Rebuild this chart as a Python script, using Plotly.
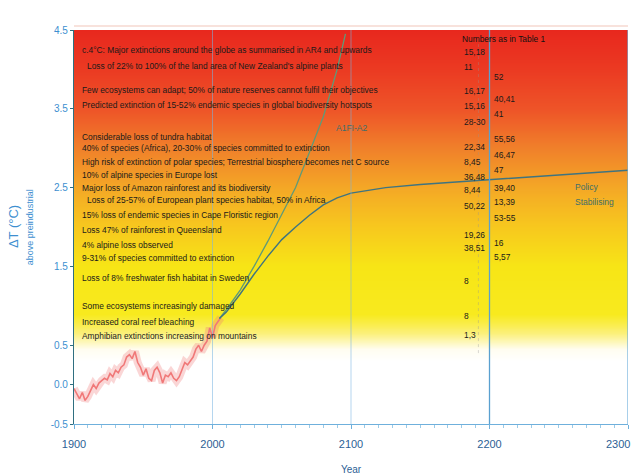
import numpy as np
import plotly.graph_objects as go

# ---------------- data ----------------
hist_years = [1900, 1902, 1904, 1906, 1908, 1910, 1912, 1914, 1916, 1918, 1920, 1922, 1924, 1926,
              1928, 1930, 1932, 1934, 1936, 1938, 1940, 1942, 1944, 1946, 1948, 1950, 1952, 1954,
              1956, 1958, 1960, 1962, 1964, 1966, 1968, 1970, 1972, 1974, 1976, 1978, 1980, 1982,
              1984, 1986, 1988, 1990, 1992, 1994, 1996, 1998, 2000, 2002, 2004, 2006]
hist_temp = [-0.05, -0.12, -0.18, -0.10, -0.20, -0.15, -0.08, 0.00, -0.05, 0.02, 0.05, 0.08, 0.06, 0.14,
             0.10, 0.18, 0.15, 0.22, 0.25, 0.35, 0.38, 0.33, 0.42, 0.28, 0.22, 0.12, 0.20, 0.08,
             0.05, 0.18, 0.22, 0.15, 0.02, 0.12, 0.10, 0.15, 0.08, 0.05, 0.10, 0.20, 0.28, 0.25,
             0.30, 0.35, 0.45, 0.50, 0.42, 0.50, 0.55, 0.72, 0.60, 0.75, 0.80, 0.85]

stab_years = [2005, 2010, 2020, 2030, 2040, 2050, 2060, 2070, 2080, 2090, 2100, 2125, 2150, 2175, 2200, 2250, 2300]
stab_temp = [0.84, 0.92, 1.15, 1.40, 1.63, 1.84, 2.00, 2.15, 2.28, 2.37, 2.43, 2.50, 2.54, 2.57, 2.60, 2.66, 2.72]

high_years = [2005, 2010, 2020, 2030, 2040, 2050, 2060, 2070, 2080, 2090, 2096]
high_temp = [0.84, 0.95, 1.20, 1.50, 1.82, 2.15, 2.50, 2.95, 3.40, 4.00, 4.45]

impact_text = [
    "c.4°C: Major extinctions around the globe as summarised in AR4 and upwards",
    "Loss of 22% to 100% of the land area of New Zealand's alpine plants",
    "Few ecosystems can adapt; 50% of nature reserves cannot fulfil their objectives",
    "Predicted extinction of 15-52% endemic species in global biodiversity hotspots",
    "Considerable loss of tundra habitat",
    "40% of species (Africa), 20-30% of species committed to extinction",
    "High risk of extinction of polar species; Terrestrial biosphere becomes net C source",
    "10% of alpine species in Europe lost",
    "Major loss of Amazon rainforest and its biodiversity",
    "Loss of 25-57% of European plant species habitat, 50% in Africa",
    "15% loss of endemic species in Cape Floristic region",
    "Loss 47% of rainforest in Queensland",
    "4% alpine loss observed",
    "9-31% of species committed to extinction",
    "Loss of 8% freshwater fish habitat in Sweden",
    "Some ecosystems increasingly damaged",
    "Increased coral reef bleaching",
    "Amphibian extinctions increasing on mountains",
]
impact_temp = [4.25, 4.04, 3.74, 3.55, 3.14, 3.00, 2.82, 2.66, 2.49, 2.34, 2.15, 1.96, 1.77, 1.61, 1.35, 1.00, 0.80, 0.62]
impact_indent = [0, 1, 0, 0, 0, 0, 0, 0, 0, 1, 0, 0, 0, 0, 0, 0, 0, 0]

refs_a = ["15,18", "11", "16,17", "15,16", "28-30", "22,34", "8,45", "36,48", "8,44", "50,22",
          "19,26", "38,51", "8", "8", "1,3"]
refs_a_temp = [4.22, 4.03, 3.72, 3.53, 3.33, 3.01, 2.82, 2.63, 2.47, 2.27, 1.90, 1.73, 1.31, 0.87, 0.63]
refs_b = ["52", "40,41", "41", "55,56", "46,47", "47", "39,40", "13,39", "53-55", "16", "5,57"]
refs_b_temp = [3.90, 3.62, 3.43, 3.12, 2.91, 2.72, 2.49, 2.32, 2.11, 1.80, 1.62]

x_ticks = [1900, 2000, 2100, 2200, 2300]
x_tick_text = ["1900", "2000", "2100", "2200", ""]
y_ticks = [-0.5, 0.0, 0.5, 1.5, 2.5, 3.5, 4.5]
y_tick_text = ["-0.5", "0.0", "0.5", "1.5", "2.5", "3.5", "4.5"]

FONT = "Liberation Sans, Arial, sans-serif"

# ---------------- figure ----------------
fig = go.Figure()

# background gradient (white -> yellow -> orange -> red)
grad_y = np.linspace(0.3, 4.5, 85)
grad_z = [[v, v] for v in grad_y]
lo, hi = 0.3, 4.5
def n(v):
    return (v - lo) / (hi - lo)
colorscale = [
    [0.0, "#ffffff"],
    [n(0.45), "#fffdf0"],
    [n(0.65), "#fbf07a"],
    [n(0.9), "#f8ea1e"],
    [n(1.5), "#f7e516"],
    [n(2.0), "#f7c81e"],
    [n(2.5), "#f4a826"],
    [n(3.0), "#f0802a"],
    [n(3.5), "#ee5428"],
    [n(4.0), "#eb3a22"],
    [1.0, "#e8281e"],
]
fig.add_trace(go.Heatmap(x=[1900, 2300], y=grad_y, z=grad_z, colorscale=colorscale,
                         zmin=lo, zmax=hi, zsmooth="best", showscale=False, hoverinfo="skip"))

# historical record (fuzzy red)
fig.add_trace(go.Scatter(x=hist_years, y=hist_temp, mode="lines",
                         line=dict(color="rgba(240,120,120,0.3)", width=8), hoverinfo="skip"))
fig.add_trace(go.Scatter(x=hist_years, y=hist_temp, mode="lines",
                         line=dict(color="#f07878", width=1.6), hoverinfo="skip"))

# projections
fig.add_trace(go.Scatter(x=high_years, y=high_temp, mode="lines",
                         line=dict(color="#5f9a78", width=1.3), hoverinfo="skip"))
fig.add_trace(go.Scatter(x=stab_years, y=stab_temp, mode="lines",
                         line=dict(color="#3f7480", width=1.4), hoverinfo="skip"))

annotations = []
txt_font = dict(family=FONT, size=8.4, color="#1a1a1a")
for t, v, ind in zip(impact_text, impact_temp, impact_indent):
    annotations.append(dict(x=1904 + 4 * ind, y=v, xref="x", yref="y", text=t, showarrow=False,
                            xanchor="left", yanchor="middle", font=txt_font))
annotations.append(dict(x=2179, y=4.39, xref="x", yref="y", text="Numbers as in Table 1",
                        showarrow=False, xanchor="left", yanchor="middle",
                        font=dict(family=FONT, size=8.4, color="#111")))
for t, v in zip(refs_a, refs_a_temp):
    annotations.append(dict(x=2180, y=v, xref="x", yref="y", text=t, showarrow=False,
                            xanchor="left", yanchor="middle", font=txt_font))
for t, v in zip(refs_b, refs_b_temp):
    annotations.append(dict(x=2202, y=v, xref="x", yref="y", text=t, showarrow=False,
                            xanchor="left", yanchor="middle", font=txt_font))
curve_font = dict(family=FONT, size=8.5, color="#3e6e6a")
annotations.append(dict(x=2260, y=2.51, xref="x", yref="y", text="Policy", showarrow=False,
                        xanchor="left", yanchor="middle", font=curve_font))
annotations.append(dict(x=2260, y=2.32, xref="x", yref="y", text="Stabilising", showarrow=False,
                        xanchor="left", yanchor="middle", font=curve_font))
annotations.append(dict(x=2100, y=3.26, xref="x", yref="y", text="A1FI-A2", showarrow=False,
                        xanchor="center", yanchor="middle", font=curve_font))

# last x tick label, kept inside the page
annotations.append(dict(x=1.0, y=0, xref="paper", yref="paper", text="2300", showarrow=False,
                        xanchor="right", xshift=4, yanchor="top", yshift=-12,
                        font=dict(family=FONT, size=11, color="#2d5f95")))

# axis titles
annotations.append(dict(x=-0.11, y=0.5, xref="paper", yref="paper", text="ΔT (°C)", textangle=-90,
                        showarrow=False, xanchor="center", yanchor="middle",
                        font=dict(family=FONT, size=13, color="#3d8fd0")))
annotations.append(dict(x=-0.079, y=0.5, xref="paper", yref="paper", text="above preindustrial",
                        textangle=-90, showarrow=False, xanchor="center", yanchor="middle",
                        font=dict(family=FONT, size=9, color="#3d8fd0")))

shapes = [
    dict(type="line", xref="x", yref="y", x0=2000, x1=2000, y0=-0.5, y1=4.5,
         line=dict(color="rgba(120,180,225,0.55)", width=1), layer="above"),
    dict(type="line", xref="x", yref="y", x0=2100, x1=2100, y0=-0.5, y1=4.5,
         line=dict(color="rgba(120,180,225,0.55)", width=1), layer="above"),
    dict(type="line", xref="x", yref="y", x0=2200, x1=2200, y0=-0.5, y1=4.5,
         line=dict(color="#5aa0d0", width=1.3), layer="above"),
    dict(type="line", xref="x", yref="y", x0=2192, x1=2192, y0=0.4, y1=4.4,
         line=dict(color="rgba(150,150,150,0.35)", width=1, dash="dot"), layer="above"),
    dict(type="line", xref="x", yref="y", x0=2300, x1=2300, y0=-0.5, y1=4.5,
         line=dict(color="#6fb0dc", width=1.2), layer="above"),
    dict(type="line", xref="paper", yref="paper", x0=0, x1=1, y0=1.01, y1=1.01,
         line=dict(color="#f6d8d0", width=1.5), layer="above"),
]

fig.update_layout(
    width=634, height=476,
    margin=dict(l=74, r=6, t=30, b=52, autoexpand=False),
    paper_bgcolor="white", plot_bgcolor="white",
    showlegend=False,
    annotations=annotations,
    shapes=shapes,
    xaxis=dict(range=[1900, 2300], tickvals=x_ticks, ticktext=x_tick_text, automargin=False,
               showgrid=False, zeroline=False,
               showline=True, linecolor="#6fb0dc", linewidth=1.2, ticks="outside", ticklen=4,
               tickcolor="#6fb0dc", ticklabelstandoff=6,
               minor=dict(dtick=10, ticks="outside", ticklen=3, tickcolor="#9ccbe8"),
               tickfont=dict(family=FONT, size=11, color="#2d5f95"),
               title=dict(text="Year", standoff=16,
                          font=dict(family=FONT, size=10, color="#2d5f95"))),
    yaxis=dict(range=[-0.5, 4.5], tickvals=y_ticks, ticktext=y_tick_text, showgrid=False,
               automargin=False,
               zeroline=False, showline=True, linecolor="#2f6f80", linewidth=1.2,
               ticks="outside", ticklen=3, tickcolor="#2f6f80",
               tickfont=dict(family=FONT, size=10, color="#3d8fd0")),
)

fig.write_html("out.html", config={"displayModeBar": False})

# remove the browser's default page margin so the figure sits at the top-left corner
with open("out.html", "r", encoding="utf-8") as f:
    html = f.read()
html = html.replace("<body>", '<body style="margin:0;padding:0;overflow:hidden">', 1)
html = html.replace("<head>", "<head><style>html,body{margin:0;padding:0;}</style>", 1)
with open("out.html", "w", encoding="utf-8") as f:
    f.write(html)
